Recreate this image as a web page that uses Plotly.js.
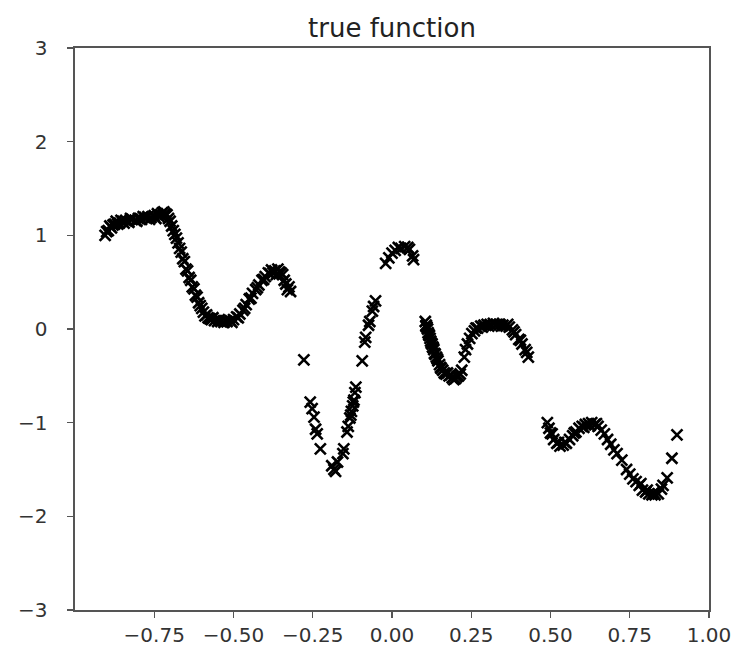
<!DOCTYPE html>
<html>
<head>
<meta charset="utf-8">
<script src="https://cdn.plot.ly/plotly-3.0.1.min.js"></script>
<style>html,body{margin:0;padding:0;background:#fff;}#chart{width:734px;height:647px;}</style>
</head>
<body>
<div id="chart"></div>
<script>
// Segment 1
const seg1X = [-0.905,-0.9,-0.895,-0.89,-0.885,-0.88,-0.875,-0.87,-0.865,-0.86,-0.855,-0.85,-0.845,-0.84,-0.83,-0.825,-0.82,-0.81,-0.805,-0.80,-0.79,-0.785,-0.78,-0.77,-0.765,-0.76,-0.75,-0.745,-0.74,-0.735,-0.73,-0.725,-0.72,-0.715,-0.71,-0.705,-0.70,-0.695,-0.69,-0.685,-0.68,-0.675,-0.67,-0.665,-0.66,-0.655,-0.65,-0.645,-0.64,-0.635,-0.63,-0.625,-0.62,-0.615,-0.61,-0.605,-0.60,-0.595,-0.59,-0.585,-0.58,-0.575,-0.57,-0.565,-0.56,-0.55,-0.545,-0.54,-0.53,-0.525,-0.52,-0.51,-0.505,-0.50,-0.49,-0.485,-0.48,-0.47,-0.465,-0.46,-0.45,-0.445,-0.44,-0.43,-0.425,-0.42,-0.41,-0.405,-0.40,-0.39,-0.385,-0.38,-0.375,-0.37,-0.365,-0.36,-0.355,-0.35,-0.345,-0.34,-0.335,-0.33,-0.325,-0.32];
const seg1Y = [1.00,1.04,1.05,1.10,1.08,1.11,1.12,1.15,1.12,1.13,1.16,1.15,1.13,1.16,1.14,1.18,1.17,1.16,1.15,1.18,1.17,1.20,1.19,1.20,1.17,1.19,1.21,1.18,1.23,1.20,1.22,1.24,1.25,1.23,1.22,1.18,1.15,1.10,1.05,1.01,0.97,0.92,0.86,0.82,0.75,0.72,0.64,0.62,0.55,0.52,0.45,0.43,0.36,0.34,0.28,0.25,0.22,0.18,0.14,0.15,0.12,0.11,0.10,0.12,0.09,0.08,0.10,0.08,0.07,0.09,0.08,0.09,0.07,0.10,0.13,0.12,0.16,0.20,0.22,0.26,0.32,0.33,0.38,0.42,0.44,0.47,0.52,0.53,0.56,0.60,0.59,0.63,0.60,0.62,0.58,0.64,0.61,0.60,0.58,0.52,0.48,0.42,0.45,0.40];
// Segment 2
const seg2X = [-0.278,-0.258,-0.252,-0.246,-0.241,-0.236,-0.226,-0.19,-0.183,-0.178,-0.172,-0.155,-0.152,-0.142,-0.138,-0.133,-0.13,-0.128,-0.124,-0.122,-0.12,-0.117,-0.114,-0.094,-0.086,-0.083,-0.074,-0.07,-0.062,-0.058,-0.052,-0.02,-0.01,0.0,0.01,0.02,0.028,0.04,0.05,0.055,0.065,0.068];
const seg2Y = [-0.33,-0.78,-0.85,-0.94,-1.07,-1.12,-1.28,-1.46,-1.50,-1.52,-1.42,-1.33,-1.28,-1.10,-1.04,-0.95,-0.92,-0.88,-0.82,-0.78,-0.76,-0.68,-0.62,-0.34,-0.14,-0.09,0.04,0.08,0.19,0.24,0.30,0.70,0.76,0.81,0.84,0.87,0.86,0.88,0.87,0.85,0.78,0.74];
// Segment 3
const seg3X = [0.105,0.107,0.108,0.11,0.112,0.114,0.116,0.118,0.12,0.122,0.124,0.126,0.128,0.13,0.132,0.134,0.136,0.14,0.143,0.145,0.15,0.153,0.155,0.16,0.165,0.17,0.175,0.18,0.185,0.19,0.195,0.20,0.205,0.21,0.215,0.22,0.228,0.232,0.238,0.245,0.252,0.26,0.265,0.27,0.28,0.285,0.29,0.30,0.305,0.31,0.32,0.325,0.33,0.34,0.345,0.35,0.36,0.365,0.37,0.38,0.385,0.39,0.40,0.405,0.41,0.42,0.425,0.43];
const seg3Y = [0.08,0.03,0.04,0.02,0.00,-0.04,-0.06,-0.07,-0.10,-0.13,-0.15,-0.16,-0.19,-0.20,-0.22,-0.26,-0.27,-0.30,-0.32,-0.34,-0.38,-0.41,-0.42,-0.44,-0.47,-0.48,-0.47,-0.50,-0.49,-0.52,-0.54,-0.53,-0.51,-0.50,-0.48,-0.44,-0.30,-0.22,-0.16,-0.10,-0.05,-0.02,0.01,0.01,0.03,0.02,0.04,0.05,0.03,0.05,0.06,0.04,0.05,0.05,0.03,0.04,0.03,0.05,0.02,-0.01,-0.03,-0.06,-0.11,-0.12,-0.16,-0.22,-0.25,-0.30];
// Segment 4
const seg4X = [0.49,0.495,0.50,0.505,0.51,0.52,0.525,0.53,0.54,0.545,0.55,0.56,0.57,0.575,0.58,0.59,0.60,0.605,0.61,0.62,0.625,0.63,0.64,0.645,0.65,0.66,0.67,0.68,0.69,0.70,0.71,0.725,0.74,0.75,0.76,0.77,0.78,0.785,0.79,0.80,0.805,0.81,0.82,0.825,0.83,0.84,0.85,0.855,0.868,0.883,0.899];
const seg4Y = [-1.00,-1.06,-1.11,-1.12,-1.18,-1.22,-1.21,-1.25,-1.24,-1.21,-1.22,-1.18,-1.14,-1.11,-1.10,-1.06,-1.04,-1.05,-1.02,-1.01,-1.03,-1.00,-1.02,-1.01,-1.04,-1.08,-1.12,-1.18,-1.23,-1.29,-1.33,-1.40,-1.50,-1.55,-1.60,-1.63,-1.67,-1.65,-1.72,-1.74,-1.72,-1.76,-1.77,-1.75,-1.77,-1.76,-1.71,-1.67,-1.59,-1.38,-1.13];

const xTickVals = [-0.75,-0.5,-0.25,0,0.25,0.5,0.75,1.0];
const xTickText = ["\u22120.75","\u22120.50","\u22120.25","0.00","0.25","0.50","0.75","1.00"];
const yTickVals = [-3,-2,-1,0,1,2,3];
const yTickText = ["\u22123","\u22122","\u22121","0","1","2","3"];

const xs = seg1X.concat(seg2X, seg3X, seg4X);
const ys = seg1Y.concat(seg2Y, seg3Y, seg4Y);

const trace = {
  x: xs, y: ys, type: 'scatter', mode: 'markers',
  marker: {symbol: 'x-thin-open', size: 11, color: '#000', line: {color: '#000', width: 2.6}},
  hoverinfo: 'skip'
};

const axisCommon = {
  showgrid: false, zeroline: false, showline: true, mirror: true,
  linecolor: '#555', linewidth: 1.6, ticks: 'outside', ticklen: 6, tickwidth: 1.4, tickcolor: '#555',
  tickfont: {family: 'DejaVu Sans', size: 20, color: '#333'}
};

const layout = {
  width: 734, height: 647,
  margin: {l: 75, r: 25, t: 48, b: 37, pad: 0},
  paper_bgcolor: '#fff', plot_bgcolor: '#fff',
  showlegend: false,
  title: {text: 'true function', font: {family: 'DejaVu Sans', size: 26, color: '#222'}, x: 0.5, xref: 'paper', y: 1 - 28/647, yref: 'container', yanchor: 'middle'},
  xaxis: Object.assign({}, axisCommon, {range: [-1.0, 1.0], tickvals: xTickVals, ticktext: xTickText, ticklabelstandoff: 0}),
  yaxis: Object.assign({}, axisCommon, {range: [-3, 3], tickvals: yTickVals, ticktext: yTickText, ticklabelstandoff: 16})
};

Plotly.newPlot('chart', [trace], layout, {displayModeBar: false, staticPlot: true});
</script>
</body>
</html>
